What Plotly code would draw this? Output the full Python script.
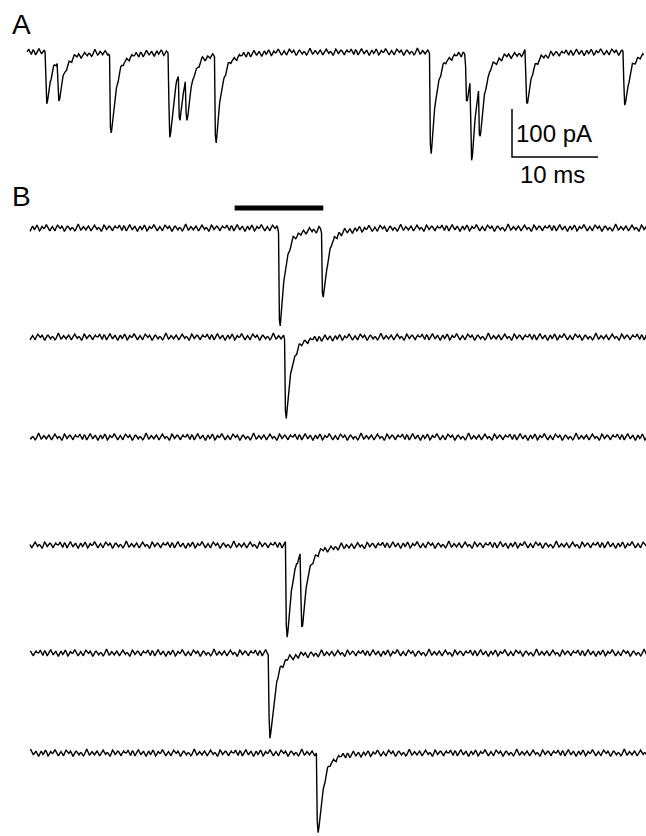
import numpy as np
import plotly.graph_objects as go

# ---------------- data ----------------
DT = 0.1            # ms per sample
DURATION = 71.7     # ms per sweep

# Panel A: spontaneous events, peak time (ms) and amplitude (pA)
A_TIMES = [2.33, 3.72, 9.77, 16.63, 17.79, 18.6, 21.98, 46.98, 51.16, 51.74, 52.67, 58.14, 69.53]
A_AMPS = [102, 90, 175, 183, 105, 95, 181, 210, 100, 175, 118, 104, 108]

# Panel B: six sweeps with light stimulus; peak time (ms) and amplitude (pA)
B_TIMES = [[29.07, 34.07], [29.77], [], [29.88, 31.63], [27.91], [33.49]]
B_AMPS = [[202, 144], [165], [], [192, 150], [181], [172]]

STIM = [23.8, 34.1]     # stimulus bar, ms
SCALE_MS = 10
SCALE_PA = 100
SCALE_LABELS = ["100 pA", "10 ms"]
PANEL_LABELS = ["A", "B"]

# baseline noise (pA), estimated
NOISE = [0, 3, 6, 2, -3, -5, 0, 4, 3, -1, -6, -3, 1, 6, 7, 3, -1, -4, -1, 3, 4, 0, -4, -7,
         -3, 1, 4, 1, -3, -1, 3, 6, 3, -3, -6, -4, 0, 3, 1, -1, 0, 4, 7, 4, 0, -3, -6, -3,
         1, 3, 0, -4, -6, -1, 3, 6, 4, 0, -1, 1, 4, 1, -3, -7, -4, 0, 3, 4, 1, -3, -4, -1,
         1, 0, -3, -6, -4, 1, 6, 8, 4, -1, -4, -3, 0, 3, 1, -1, -4, -1, 3, 4, 1, -3, -6, -3,
         0, 4, 6, 3, -1, -3, 0, 1, -1, -4, -7, -3, 3, 6, 4, 0, -3, -1, 1, 4, 3, -1, -4, -6,
         -1, 3, 4, 1, 0]

# ---------------- layout constants ----------------
W, H = 646, 836
PX_PER_MS = 8.6
PX_PER_PA = 0.48
A_X0_PX = 27
B_X0_PX = 30
A_BASE_PX = 52
B_BASE_PX = [228, 337, 437, 545, 653, 753]
STIM_PX = 208
SCALE_X_PX = 512
SCALE_Y_PX = 157


def px_to_pa(py):
    return -py / PX_PER_PA


def px_to_ms(px):
    return (px - A_X0_PX) / PX_PER_MS


def kernel(s):
    s = np.asarray(s, dtype=float)
    sp = np.clip(s, 0, None)
    out = (1 - np.exp(-sp / 0.08)) * (0.9 * np.exp(-sp / 0.55) + 0.1 * np.exp(-sp / 2.0))
    return np.where(s >= 0, out, 0.0)


_grid = np.arange(0, 5, 0.001)
_k = kernel(_grid)
K_PEAK_T = _grid[np.argmax(_k)]
K_MAX = _k.max()

t = np.arange(0, DURATION + DT / 2, DT)


def sweep(times, amps, phase):
    idx = (np.arange(len(t)) + phase) % len(NOISE)
    y = np.array(NOISE, dtype=float)[idx]
    for tp, a in zip(times, amps):
        y = y - a * kernel(t - (tp - K_PEAK_T)) / K_MAX
    return y


fig = go.Figure()
line = dict(color="black", width=1.4)

# Panel A trace
yA = sweep(A_TIMES, A_AMPS, 0) + px_to_pa(A_BASE_PX)
fig.add_trace(go.Scatter(x=t, y=yA, mode="lines", line=line, hoverinfo="skip"))

# Panel B traces
b_shift = (B_X0_PX - A_X0_PX) / PX_PER_MS
for i, (bt, ba) in enumerate(zip(B_TIMES, B_AMPS)):
    yB = sweep(bt, ba, 23 * (i + 1)) + px_to_pa(B_BASE_PX[i])
    fig.add_trace(go.Scatter(x=t + b_shift, y=yB, mode="lines", line=line, hoverinfo="skip"))

# stimulus bar
fig.add_trace(go.Scatter(x=[STIM[0] + b_shift, STIM[1] + b_shift],
                         y=[px_to_pa(STIM_PX)] * 2, mode="lines",
                         line=dict(color="black", width=5), hoverinfo="skip"))

# scale bar
sx = px_to_ms(SCALE_X_PX)
sy = px_to_pa(SCALE_Y_PX)
fig.add_trace(go.Scatter(x=[sx, sx, sx + SCALE_MS], y=[sy + SCALE_PA, sy, sy],
                         mode="lines", line=dict(color="black", width=1.5), hoverinfo="skip"))

font = "Liberation Sans, Arial, sans-serif"
ann = [
    dict(text=SCALE_LABELS[0], x=sx + 0.25, y=sy + SCALE_PA * 0.5, xanchor="left", yanchor="middle",
         font=dict(size=24, family=font, color="black")),
    dict(text=SCALE_LABELS[1], x=sx + SCALE_MS * 0.47, y=sy - 4, xanchor="center", yanchor="top",
         font=dict(size=24, family=font, color="black")),
    dict(text=PANEL_LABELS[0], x=10 / W, y=1 - 24 / H, xref="paper", yref="paper",
         xanchor="left", yanchor="middle", font=dict(size=28, family=font, color="black")),
    dict(text=PANEL_LABELS[1], x=10 / W, y=1 - 196 / H, xref="paper", yref="paper",
         xanchor="left", yanchor="middle", font=dict(size=28, family=font, color="black")),
]
for a in ann:
    a["showarrow"] = False
    a.setdefault("xref", "x")
    a.setdefault("yref", "y")

fig.update_layout(
    width=W, height=H, autosize=False,
    margin=dict(l=0, r=0, t=0, b=0),
    paper_bgcolor="white", plot_bgcolor="white",
    showlegend=False,
    xaxis=dict(range=[px_to_ms(0), px_to_ms(W)], visible=False, fixedrange=True),
    yaxis=dict(range=[px_to_pa(H), px_to_pa(0)], visible=False, fixedrange=True),
    annotations=ann,
)

fig.write_html("out.html", config={"displayModeBar": False})
